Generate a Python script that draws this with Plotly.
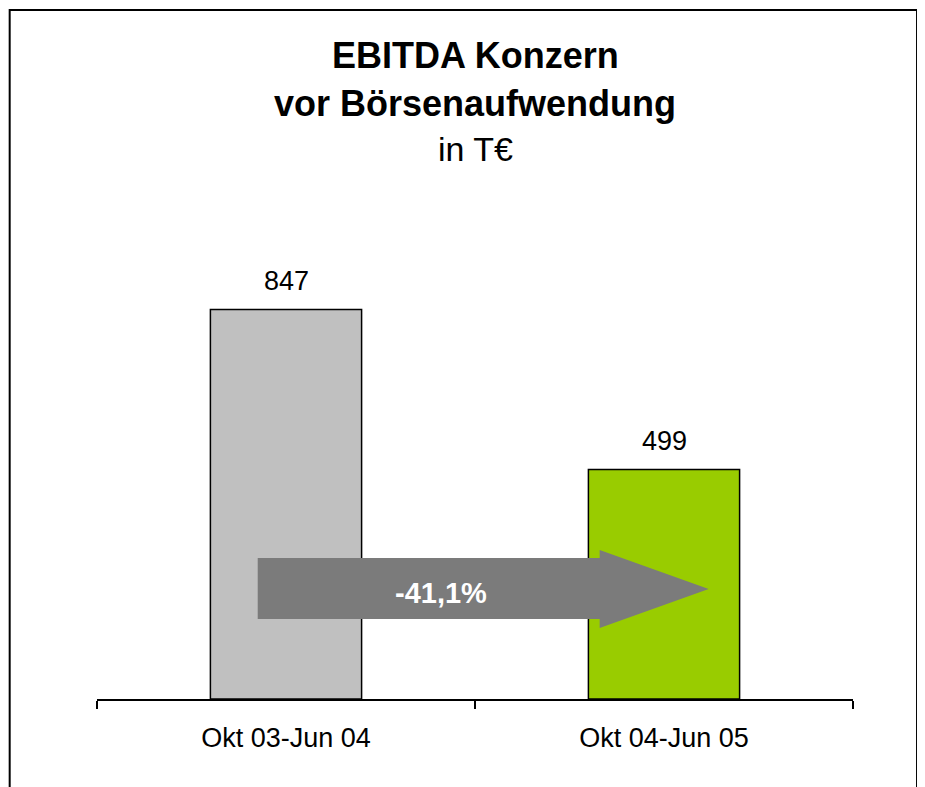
import plotly.graph_objects as go

periods = ["Okt 03-Jun 04", "Okt 04-Jun 05"]
ebitda = [847, 499]
bar_colors = ["#C0C0C0", "#99CC00"]
change_label = "-41,1%"

fig = go.Figure()

fig.add_trace(
    go.Bar(x=periods, y=ebitda, width=0.4,
           marker=dict(color=bar_colors, line=dict(color="black", width=1.5)),
           hoverinfo="skip", showlegend=False)
)

# value labels above the bars
for p, v in zip(periods, ebitda):
    fig.add_annotation(x=p, y=v, text=str(v), showarrow=False,
                       xref="x", yref="y", yanchor="bottom", yshift=11,
                       font=dict(size=27, color="black"))

# big grey arrow (paper coords inside the plot area)
arrow_path = ("M 0.2126 0.3065 L 0.6649 0.3065 L 0.6649 0.3239 L 0.8091 0.2391 "
              "L 0.6649 0.1543 L 0.6649 0.1739 L 0.2126 0.1739 Z")
shapes = [
    dict(type="path", xref="paper", yref="paper", path=arrow_path,
         fillcolor="#7B7B7B", line=dict(width=0), layer="above"),
    # outer frame
    dict(type="rect", xref="paper", yref="paper", x0=-0.1155, x1=1.0847,
         y0=-0.3, y1=1.4978, line=dict(color="black", width=2),
         fillcolor="rgba(0,0,0,0)"),
]

fig.add_annotation(x=0.455, y=0.192, xref="paper", yref="paper",
                   text="<b>%s</b>" % change_label, showarrow=False,
                   font=dict(size=29, color="white"))

# title lines
fig.add_annotation(x=0.5, y=1.351, xref="paper", yref="paper", yanchor="bottom",
                   text="<b>EBITDA Konzern</b>", showarrow=False,
                   font=dict(size=36, color="black"))
fig.add_annotation(x=0.5, y=1.245, xref="paper", yref="paper", yanchor="bottom",
                   text="<b>vor Börsenaufwendung</b>", showarrow=False,
                   font=dict(size=36, color="black"))
fig.add_annotation(x=0.5, y=1.150, xref="paper", yref="paper", yanchor="bottom",
                   text="in T€", showarrow=False,
                   font=dict(size=34, color="black"))

fig.update_layout(
    width=925,
    height=787,
    margin=dict(t=231, b=96, l=89, r=80),
    font=dict(family="Liberation Sans, Arial, sans-serif", size=27, color="black"),
    plot_bgcolor="white",
    paper_bgcolor="white",
    shapes=shapes,
    bargap=0.6,
)

fig.update_xaxes(type="category", range=[-0.5, 1.5], showline=True, linecolor="black",
                 linewidth=1.5, ticks="outside", tickson="boundaries", ticklen=8,
                 tickcolor="black", tickwidth=1.5, showgrid=False,
                 ticklabelstandoff=14, tickfont=dict(size=27))
fig.update_yaxes(range=[0, 1000], visible=False)

fig.write_html("out.html")
